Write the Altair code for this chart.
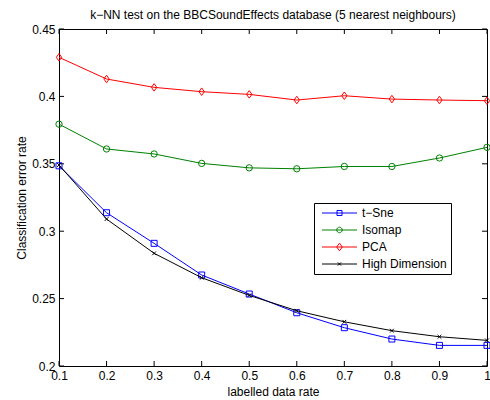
import altair as alt
import pandas as pd

# ---- data ----
rates = [0.1, 0.2, 0.3, 0.4, 0.5, 0.6, 0.7, 0.8, 0.9, 1.0]
tsne = [0.3485, 0.3137, 0.2910, 0.2675, 0.2534, 0.2395, 0.2284, 0.2200, 0.2153, 0.2153]
isomap = [0.3794, 0.3610, 0.3573, 0.3503, 0.3470, 0.3463, 0.3480, 0.3480, 0.3543, 0.3622]
pca = [0.4290, 0.4129, 0.4067, 0.4035, 0.4015, 0.3973, 0.4005, 0.3980, 0.3973, 0.3968]
high_dim = [0.3491, 0.3090, 0.2836, 0.2655, 0.2524, 0.2410, 0.2328, 0.2262, 0.2217, 0.2190]

series_names = ["t\u2212Sne", "Isomap", "PCA", "High Dimension"]
series_values = [tsne, isomap, pca, high_dim]
colors = ["#0000ff", "#008000", "#ff0000", "#000000"]

x_ticks = [0.1, 0.2, 0.3, 0.4, 0.5, 0.6, 0.7, 0.8, 0.9, 1.0]
y_ticks = [0.2, 0.25, 0.3, 0.35, 0.4, 0.45]

FONT = "Liberation Sans"
W, H = 428, 337
XMIN, XMAX, YMIN, YMAX = 0.1, 1.0, 0.2, 0.45

rows = []
for name, vals in zip(series_names, series_values):
    for r, v in zip(rates, vals):
        rows.append({"rate": r, "error": v, "series": name})
df = pd.DataFrame(rows)

xscale = alt.Scale(domain=[XMIN, XMAX], nice=False, zero=False)
yscale = alt.Scale(domain=[YMIN, YMAX], nice=False, zero=False)

xaxis = alt.Axis(values=x_ticks, format="~g", title="labelled data rate", grid=False,
                 ticks=False, tickSize=0, domain=False, labelFlush=False, labelPadding=4,
                 labelFontSize=12, titleFontSize=12, titleFontWeight="normal",
                 titleY=29, titleBaseline="alphabetic", labelColor="black",
                 titleColor="black", labelOverlap=False)
yaxis = alt.Axis(values=y_ticks, format="~g", title="Classification error rate", grid=False,
                 ticks=False, tickSize=0, domain=False, labelFlush=False, labelPadding=4,
                 labelFontSize=12, titleFontSize=12, titleFontWeight="normal",
                 titleX=-34, titleY=H / 2, titleAngle=270, titleAlign="center",
                 titleBaseline="alphabetic", labelColor="black", titleColor="black",
                 labelOverlap=False)

marker_shapes = ["square", "circle", "M0,-1.25L0.9,0L0,1.25L-0.9,0Z", "M-1,-1L1,1M-1,1L1,-1"]
marker_sizes = [36, 40, 36, 14]

layers = []
# inward ticks on all four sides (MATLAB box style)
tick_len_x = 5 * (XMAX - XMIN) / W
tick_len_y = 5 * (YMAX - YMIN) / H
xt = pd.DataFrame({"t": x_ticks * 2,
                   "a": [YMIN] * len(x_ticks) + [YMAX] * len(x_ticks),
                   "b": [YMIN + tick_len_y] * len(x_ticks) + [YMAX - tick_len_y] * len(x_ticks)})
yt = pd.DataFrame({"t": y_ticks * 2,
                   "a": [XMIN] * len(y_ticks) + [XMAX] * len(y_ticks),
                   "b": [XMIN + tick_len_x] * len(y_ticks) + [XMAX - tick_len_x] * len(y_ticks)})
layers.append(alt.Chart(xt).mark_rule(color="black", strokeWidth=1).encode(
    x=alt.X("t:Q", scale=xscale, axis=xaxis), y=alt.Y("a:Q", scale=yscale, axis=yaxis), y2="b:Q"))
layers.append(alt.Chart(yt).mark_rule(color="black", strokeWidth=1).encode(
    y=alt.Y("t:Q", scale=yscale), x=alt.X("a:Q", scale=xscale), x2="b:Q"))

for name, col, shp, sz in zip(series_names, colors, marker_shapes, marker_sizes):
    sub = df[df["series"] == name]
    base = alt.Chart(sub).encode(x=alt.X("rate:Q", scale=xscale), y=alt.Y("error:Q", scale=yscale))
    layers.append(base.mark_line(color=col, strokeWidth=1))
    layers.append(base.mark_point(shape=shp, color=col, size=sz, filled=False,
                                  strokeWidth=1, opacity=1))

# legend-only layer (no marks drawn): symbols are line + marker paths
m = 3.875
legend_paths = [
    f"M-0.5,0H8.25M{m-0.625},-0.625H{m+0.625}V0.625H{m-0.625}Z",
    f"M-0.5,0H8.25M{m-0.69},0A0.69,0.69 0 1,0 {m+0.69},0A0.69,0.69 0 1,0 {m-0.69},0",
    f"M-0.5,0H8.25M{m},-0.95L{m+0.7},0L{m},0.95L{m-0.7},0Z",
    f"M-0.5,0H8.25M{m-0.4},-0.4L{m+0.4},0.4M{m-0.4},0.4L{m+0.4},-0.4",
]
leg = alt.Legend(orient="none", legendX=255, legendY=174, title=None, fillColor="white",
                 strokeColor="black", padding=4, rowPadding=5, symbolSize=64,
                 symbolStrokeWidth=1, labelOffset=32, labelFontSize=12, labelFont=FONT,
                 labelColor="black", cornerRadius=0, symbolOpacity=1, labelLimit=300)
layers.append(alt.Chart(df).mark_point(filled=False, opacity=1, strokeWidth=1).encode(
    color=alt.Color("series:N", scale=alt.Scale(domain=series_names, range=colors), legend=leg),
    shape=alt.Shape("series:N", scale=alt.Scale(domain=series_names, range=legend_paths), legend=leg),
).transform_filter("false"))

chart = alt.layer(*layers).properties(
    width=W, height=H,
    title=alt.TitleParams("k\u2212NN test on the BBCSoundEffects database (5 nearest neighbours)",
                          anchor="middle", fontSize=12, fontWeight="normal", font=FONT,
                          color="black", offset=9, baseline="alphabetic", frame="group", dy=17),
    autosize=alt.AutoSizeParams(type="none"),
    padding={"left": 59, "top": 29, "right": 3, "bottom": 34},
    background="white",
).configure(font=FONT).configure_view(stroke="black", strokeWidth=1)

chart.save("out.html", embed_options={"renderer": "svg", "actions": False})
